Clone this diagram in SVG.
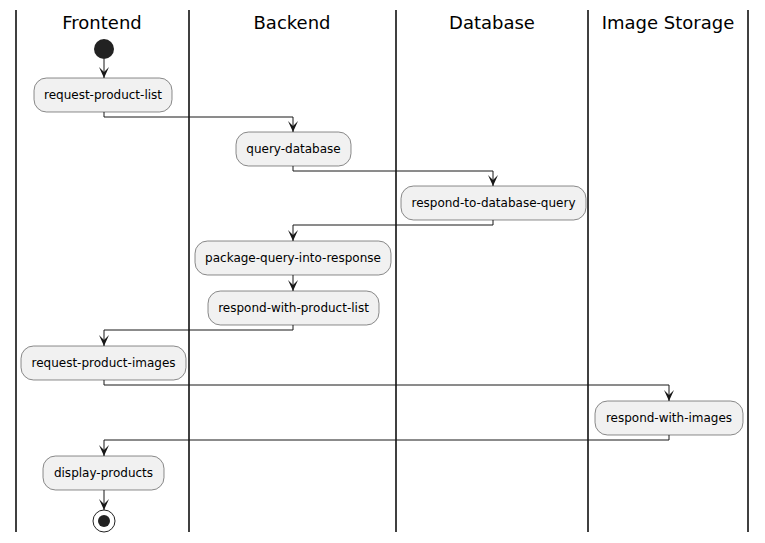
<svg xmlns="http://www.w3.org/2000/svg" width="765" height="543" viewBox="0 0 765 543">
<style>
.lane{stroke:#000;stroke-width:1.5;fill:none}
.hdr{font-family:"DejaVu Sans",sans-serif;font-size:18px;fill:#000;text-anchor:middle}
.act rect{fill:#F1F1F1;stroke:#181818;stroke-width:0.5}
.act text{font-family:"DejaVu Sans",sans-serif;font-size:12px;fill:#000;text-anchor:middle}
.conn path{fill:none;stroke:#181818;stroke-width:1}
</style>
<defs>
<marker id="ah" markerUnits="userSpaceOnUse" markerWidth="14" markerHeight="12" viewBox="-12 -6 14 12" refX="0" refY="0" orient="auto">
<path d="M0,0 L-11,-5 L-6,0 L-11,5 Z" fill="#181818"/>
</marker>
</defs>
<rect width="765" height="543" fill="#fff"/>
<g id="lanes">
<line class="lane" x1="16" y1="10" x2="16" y2="532"/>
<line class="lane" x1="189" y1="10" x2="189" y2="532"/>
<line class="lane" x1="396" y1="10" x2="396" y2="532"/>
<line class="lane" x1="588" y1="10" x2="588" y2="532"/>
<line class="lane" x1="748" y1="10" x2="748" y2="532"/>
<text class="hdr" x="102" y="29">Frontend</text>
<text class="hdr" x="292" y="29">Backend</text>
<text class="hdr" x="492" y="29">Database</text>
<text class="hdr" x="668" y="29">Image Storage</text>
</g>
<g id="start"><circle cx="104" cy="49" r="10" fill="#222"/></g>
<g id="end"><circle cx="104" cy="521" r="11" fill="none" stroke="#222" stroke-width="1"/><circle cx="104" cy="521" r="6" fill="#222"/></g>
<g id="n1" class="act"><rect x="34" y="78" width="138" height="34" rx="12.5"/><text x="103" y="99">request-product-list</text></g>
<g id="n2" class="act"><rect x="236" y="132" width="115" height="34" rx="12.5"/><text x="293.5" y="153">query-database</text></g>
<g id="n3" class="act"><rect x="401" y="186" width="185" height="34" rx="12.5"/><text x="493.5" y="207">respond-to-database-query</text></g>
<g id="n4" class="act"><rect x="195" y="241" width="196" height="34" rx="12.5"/><text x="293" y="262">package-query-into-response</text></g>
<g id="n5" class="act"><rect x="208" y="291" width="171" height="34" rx="12.5"/><text x="293.5" y="312">respond-with-product-list</text></g>
<g id="n6" class="act"><rect x="21" y="346" width="165" height="34" rx="12.5"/><text x="103.5" y="367">request-product-images</text></g>
<g id="n7" class="act"><rect x="595" y="401" width="148" height="34" rx="12.5"/><text x="669" y="422">respond-with-images</text></g>
<g id="n8" class="act"><rect x="43" y="456" width="121" height="34" rx="12.5"/><text x="103.5" y="477">display-products</text></g>
<g id="connectors" class="conn">
<path d="M104,59 V78" marker-end="url(#ah)"/>
<path d="M104,112 V117 H293 V132" marker-end="url(#ah)"/>
<path d="M293,166 V171 H493 V186" marker-end="url(#ah)"/>
<path d="M493,220 V225 H293 V241" marker-end="url(#ah)"/>
<path d="M293,275 V291" marker-end="url(#ah)"/>
<path d="M293,325 V330 H104 V346" marker-end="url(#ah)"/>
<path d="M104,380 V385 H669 V401" marker-end="url(#ah)"/>
<path d="M669,435 V440 H104 V456" marker-end="url(#ah)"/>
<path d="M104,490 V510" marker-end="url(#ah)"/>
</g>
</svg>
